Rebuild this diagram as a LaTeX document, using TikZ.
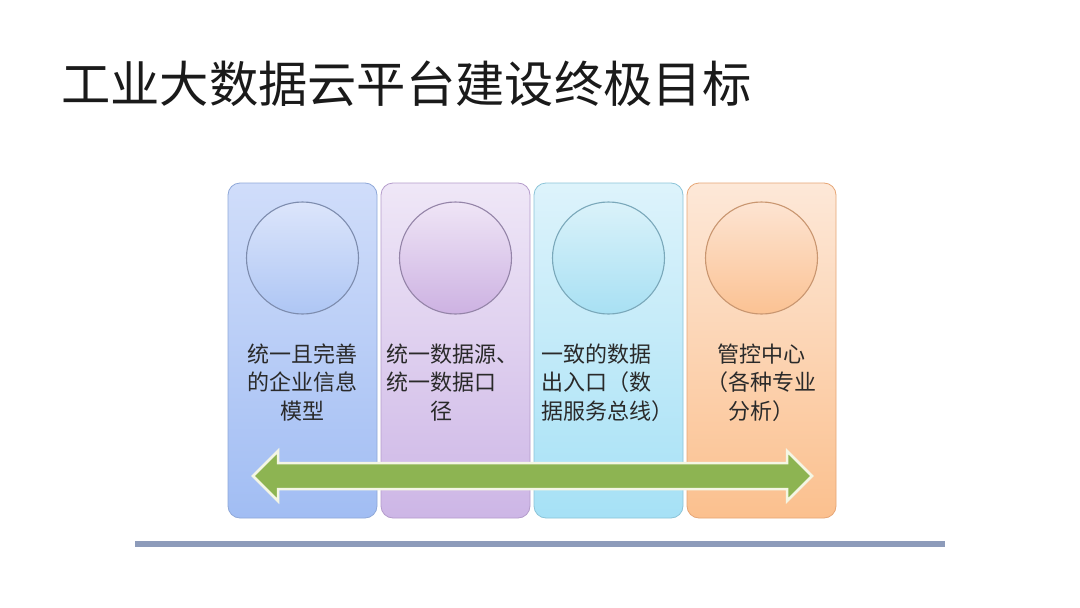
\documentclass[tikz,border=0pt]{standalone}
\usepackage{fontspec}
\setmainfont{Noto Sans CJK SC}
\newfontfamily\cjk{Noto Sans CJK SC}
\definecolor{titlecol}{HTML}{1A1A1A}
\definecolor{txtcol}{HTML}{2A2A2A}
\definecolor{bAtop}{HTML}{D0DDFA}\definecolor{bAbot}{HTML}{A1BDF3}\definecolor{bAbd}{HTML}{8FA8D8}
\definecolor{bBtop}{HTML}{EFE7F7}\definecolor{bBbot}{HTML}{CDB6E6}\definecolor{bBbd}{HTML}{B49CCB}
\definecolor{bCtop}{HTML}{DDF3FB}\definecolor{bCbot}{HTML}{A6E1F6}\definecolor{bCbd}{HTML}{8CC4D8}
\definecolor{bDtop}{HTML}{FDE8D8}\definecolor{bDbot}{HTML}{FBC08E}\definecolor{bDbd}{HTML}{E6A676}
\definecolor{cAtop}{HTML}{DCE5FB}\definecolor{cAbot}{HTML}{AEC6F4}\definecolor{cAbd}{HTML}{7D8CAE}
\definecolor{cBtop}{HTML}{EFE5F6}\definecolor{cBbot}{HTML}{CDB2E2}\definecolor{cBbd}{HTML}{9484A8}
\definecolor{cCtop}{HTML}{DAF2FA}\definecolor{cCbot}{HTML}{A8E0F3}\definecolor{cCbd}{HTML}{7AA8BA}
\definecolor{cDtop}{HTML}{FDE4D2}\definecolor{cDbot}{HTML}{FBC293}\definecolor{cDbd}{HTML}{C99670}
\definecolor{arrowfill}{HTML}{8DB452}
\definecolor{arrowedge}{HTML}{F4F6E4}
\definecolor{rulecol}{HTML}{8D9BBA}
\tikzset{
  colbox/.style={draw=#1bd, line width=0.8pt, rounded corners=12pt, top color=#1top, bottom color=#1bot},
  circ/.style={draw=#1bd, line width=1.1pt, top color=#1top, bottom color=#1bot},
  boxtext/.style={text=txtcol, font=\cjk\fontsize{22}{28.5}\selectfont, inner sep=0pt},
}
\begin{document}
\begin{tikzpicture}[x=1pt,y=-1pt]
\fill[white] (0,0) rectangle (1080,608);
\useasboundingbox (0,0) rectangle (1080,608);
% title
\node[anchor=west, inner sep=0pt, text=titlecol, font=\cjk\fontsize{49.3}{56}\selectfont] (title) at (61,84) {工业大数据云平台建设终极目标};
% boxes
\path[colbox=bA] (228,183) rectangle (377,518);
\path[colbox=bB] (381,183) rectangle (530,518);
\path[colbox=bC] (534,183) rectangle (683,518);
\path[colbox=bD] (687,183) rectangle (836,518);
% circles
\path[circ=cA] (302.5,258) circle (56);
\path[circ=cB] (455.5,258) circle (56);
\path[circ=cC] (608.5,258) circle (56);
\path[circ=cD] (761.5,258) circle (56);
% texts
\node[boxtext, align=center] (tA) at (302.5,382.5) {统一且完善\\的企业信息\\模型};
\node[boxtext, align=left, anchor=west] (tB) at (386,382.5) {统一数据源、\\统一数据口\\\hspace*{2em}径};
\node[boxtext, align=left, anchor=west] (tC) at (541,382.5) {一致的数据\\出入口（数\\据服务总线）};
\node[boxtext, align=center] (tD) at (761.5,382.5) {管控中心\\（各种专业\\分析）};
% double arrow
\draw[fill=arrowfill, draw=arrowedge, line width=2.5pt, line join=miter]
  (253,476) -- (278,451) -- (278,463) -- (787,463) -- (787,451) -- (812,476)
  -- (787,501) -- (787,489) -- (278,489) -- (278,501) -- cycle;
% bottom rule
\draw[rulecol, line width=6pt] (135,543.5) -- (945,543.5);
\end{tikzpicture}
\end{document}
